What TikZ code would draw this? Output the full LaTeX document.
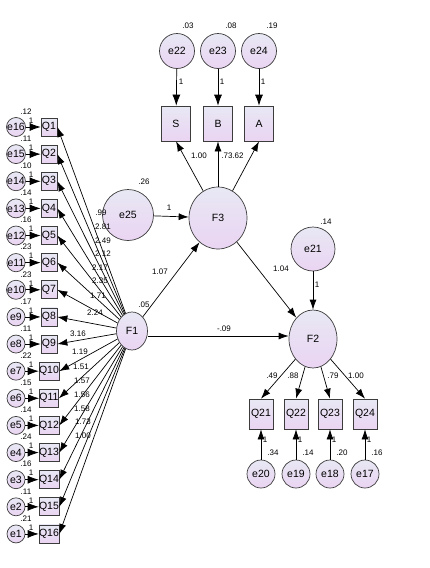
\documentclass[tikz,border=0pt]{standalone}
\usepackage{fontspec}
\setmainfont{Liberation Sans}
\usetikzlibrary{arrows.meta,shapes.geometric}
\definecolor{fillTop}{RGB}{232,232,244}
\definecolor{fillBot}{RGB}{234,212,242}
\definecolor{edgeGray}{RGB}{60,60,60}

\begin{document}
\begin{tikzpicture}[
    x=1pt, y=-1pt,
    every node/.style={inner sep=0pt, font=\fontsize{10.5}{12}\selectfont},
    fillgrad/.style={draw=edgeGray, line width=0.7pt, top color=fillTop, bottom color=fillBot},
    obs/.style={fillgrad, rectangle, minimum width=16pt, minimum height=18pt},
    err/.style={fillgrad, circle, minimum size=18pt},
    lat/.style={fillgrad, ellipse},
    lbl/.style={font=\fontsize{8}{9}\selectfont},
    arrow/.style={-{Latex[length=10pt,width=7pt]}, line width=0.7pt},
    bigarrow/.style={-{Latex[length=11pt,width=8pt]}, line width=0.7pt}
]
\useasboundingbox (0,0) rectangle (430,568);

% latent factors
\node[lat, minimum width=31pt, minimum height=38pt] (F1) at (132,331) {F1};
\node[lat, minimum width=58pt, minimum height=62pt] (F3) at (218,218) {F3};
\node[lat, minimum width=48pt, minimum height=58pt] (F2) at (313,339) {F2};
\node[err, minimum size=51pt] (e25) at (128,215) {e25};
\node[err, minimum size=44pt] (e21) at (313,249) {e21};

% left indicators of F1
\foreach \i/\e/\v/\w/\lx/\ly in {1/16/.12/.99/101/213, 2/15/.11/2.81/103/227,
    3/14/.10/2.49/103/241, 4/13/.14/2.12/103/254, 5/12/.16/2.17/100/268,
    6/11/.23/2.35/100/281, 7/10/.23/1.71/98/296, 8/9/.17/2.24/95/313,
    9/8/.11/3.16/78/334, 10/7/.22/1.19/80/352, 11/6/.15/1.51/81/367,
    12/5/.14/1.57/82/381, 13/4/.24/1.56/82/395, 14/3/.16/1.58/82/409,
    15/2/.11/1.73/83/422, 16/1/.21/1.00/83/436} {
  \pgfmathsetmacro\yy{127+(\i-1)*27.13}
  \node[obs] (Q\i) at (49,\yy) {Q\i};
  \node[err] (e\e) at (16,\yy) {e\e};
  \draw[bigarrow] (e\e) -- (Q\i);
  \draw[arrow] (F1) -- (Q\i.east);
  \node[lbl] at (26,\yy-15.5) {\v};
  \node[lbl] at (31,\yy-6.5) {1};
  \node[lbl] at (\lx,\ly) {\w};
}

% top indicators of F3
\foreach \n/\x/\v/\w/\lx in {S/176/.03/1.00/199, B/218/.08/.73/227, A/259/.19/.62/238} {
  \node[obs, minimum width=29pt, minimum height=35pt] (\n) at (\x,123.5) {\n};
  \draw[arrow] (F3) -- (\n.south);
  \node[lbl] at (\lx,156) {\w};
}
\node[err, minimum size=35pt] (e22) at (177,51) {e22};
\node[err, minimum size=35pt] (e23) at (218,51) {e23};
\node[err, minimum size=35pt] (e24) at (259,51) {e24};
\draw[bigarrow] (e22) -- (S);
\draw[bigarrow] (e23) -- (B);
\draw[bigarrow] (e24) -- (A);
\node[lbl] at (188,26) {.03};
\node[lbl] at (231,26) {.08};
\node[lbl] at (272,26) {.19};
\node[lbl] at (181,82) {1};
\node[lbl] at (222,82) {1};
\node[lbl] at (263,82) {1};

% bottom indicators of F2
\foreach \j/\e/\x/\v/\w/\lx in {21/20/261/.34/.49/272, 22/19/296/.14/.88/293,
    23/18/330/.20/.79/333, 24/17/365/.16/1.00/356} {
  \node[obs, minimum width=24pt, minimum height=30pt] (Q\j) at (\x,414) {Q\j};
  \node[err, minimum size=28pt] (e\e) at (\x,474) {e\e};
  \draw[arrow] (F2) -- (Q\j.north);
  \draw[arrow] (e\e) -- (Q\j);
  \node[lbl] at (\x+4,440) {1};
  \node[lbl] at (\x+12,453) {\v};
  \node[lbl] at (\lx,376) {\w};
}

% structural paths
\draw[arrow] (e25) -- (F3);
\draw[arrow] (F1) -- (F3);
\draw[arrow] (F1.east |- 0,336) -- (F2.west |- 0,336);
\draw[arrow] (F3) -- (F2);
\draw[arrow] (e21) -- (F2);
\node[lbl] at (169,208) {1};
\node[lbl] at (160,272) {1.07};
\node[lbl] at (281,269) {1.04};
\node[lbl] at (224,329) {-.09};
\node[lbl] at (317,285) {1};
\node[lbl] at (144,182) {.26};
\node[lbl] at (144,305) {.05};
\node[lbl] at (326,222) {.14};
\end{tikzpicture}
\end{document}
